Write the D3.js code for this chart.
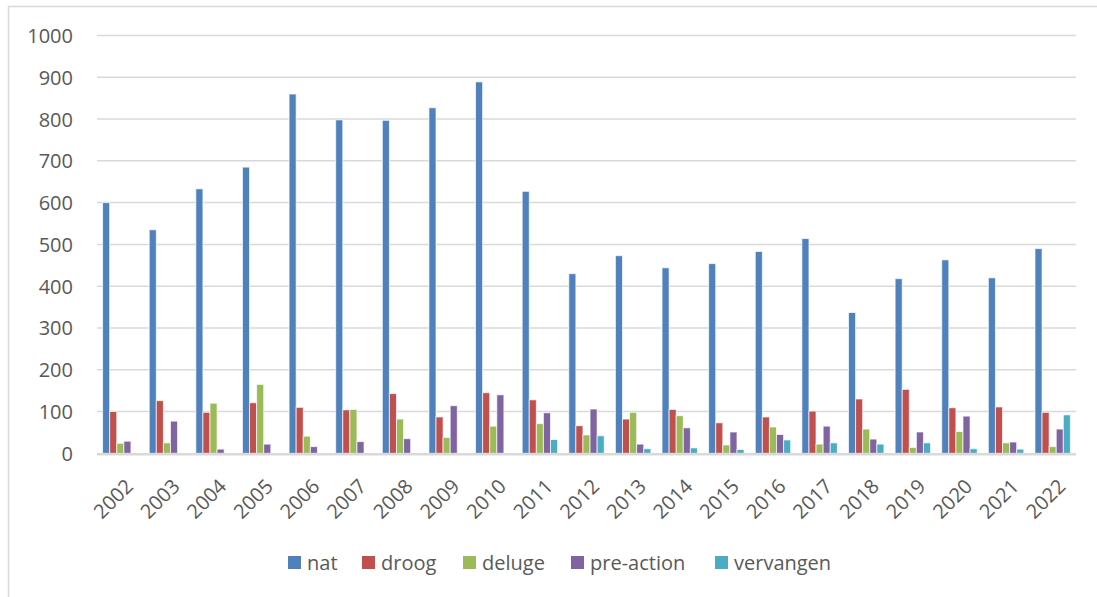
<!DOCTYPE html>
<html>
<head>
<meta charset="utf-8">
<script src="https://cdn.jsdelivr.net/npm/d3@7"></script>
<style>
  body { margin: 0; background: #fff; }
  text { font-family: "Open Sans", sans-serif; fill: #595959; }
</style>
</head>
<body>
<script>
var years = ["2002","2003","2004","2005","2006","2007","2008","2009","2010","2011",
             "2012","2013","2014","2015","2016","2017","2018","2019","2020","2021","2022"];
var nat = [600,535,633,685,860,798,797,827,889,627,430,473,444,454,483,514,337,418,463,420,490];
var droog = [100,126,98,121,110,104,143,87,145,128,66,82,105,73,87,101,130,153,109,111,98];
var deluge = [24,25,120,165,41,105,82,38,65,71,44,98,90,20,63,22,58,14,52,25,16];
var preAction = [29,77,10,22,16,28,35,114,140,97,106,22,61,51,45,65,34,51,89,27,58];
var vervangen = [0,0,0,0,0,0,0,0,0,33,42,11,13,9,32,25,22,25,11,10,92];
var yTicks = [0,100,200,300,400,500,600,700,800,900,1000];

var seriesNames = ["nat","droog","deluge","pre-action","vervangen"];
var seriesValues = [nat, droog, deluge, preAction, vervangen];
var colors = ["#4F81BD","#C0504D","#9BBB59","#8064A2","#4BACC6"];

var svgWidth = 1097;
var svgHeight = 597;

var svg = d3.select("body")
    .append("svg")
    .attr("width", svgWidth)
    .attr("height", svgHeight);

// chart border (only left/top visible in the crop)
svg.append("rect")
    .attr("x", 8.5).attr("y", 6.5)
    .attr("width", 1300).attr("height", 800)
    .attr("fill", "none")
    .attr("stroke", "#d9d9d9")
    .attr("stroke-width", 1.5);

var plotLeft = 97, plotRight = 1076;

var x0 = d3.scaleBand()
    .domain(years)
    .range([plotLeft, plotRight])
    .paddingInner(0.24)
    .paddingOuter(0.12);

var x1 = d3.scaleBand()
    .domain(seriesNames)
    .range([0, x0.bandwidth()]);

var y = d3.scaleLinear()
    .domain([0, 1000])
    .range([453.3, 35.5]);

// gridlines
svg.append("g")
    .selectAll("line")
    .data(yTicks.slice(1))
    .enter().append("line")
    .attr("x1", plotLeft).attr("x2", plotRight)
    .attr("y1", d => y(d)).attr("y2", d => y(d))
    .attr("stroke", "#d9d9d9")
    .attr("stroke-width", 1.5);

// y labels
var leftAxis = d3.axisLeft(y).tickValues(yTicks).tickFormat(d3.format("d")).tickSize(0).tickPadding(0);
var yAxis = svg.append("g")
    .attr("transform", "translate(73, 0)")
    .call(leftAxis);
yAxis.select(".domain").remove();
yAxis.selectAll("text")
    .attr("font-size", "20px")
    .attr("font-family", "Open Sans, sans-serif")
    .attr("fill", "#595959")
    .attr("dy", "0.35em");

// bars
var groups = svg.append("g")
    .selectAll("g")
    .data(years)
    .enter().append("g")
    .attr("transform", d => `translate(${x0(d)}, 0)`);

groups.selectAll("rect")
    .data((d, i) => seriesNames.map((s, j) => ({ name: s, value: seriesValues[j][i], color: colors[j] })))
    .enter().append("rect")
    .attr("x", d => x1(d.name))
    .attr("width", x1.bandwidth())
    .attr("y", d => y(d.value))
    .attr("height", d => y(0) - y(d.value))
    .attr("fill", d => d.color)
    .attr("stroke", "#ffffff")
    .attr("stroke-opacity", 0.7)
    .attr("stroke-width", 1)
    .style("display", d => d.value > 0 ? null : "none");

// x axis line
svg.append("line")
    .attr("x1", plotLeft).attr("x2", plotRight)
    .attr("y1", y(0) + 1).attr("y2", y(0) + 1)
    .attr("stroke", "#d9d9d9")
    .attr("stroke-width", 2.5);

// x labels
svg.append("g")
    .selectAll("text")
    .data(years)
    .enter().append("text")
    .attr("transform", d => `translate(${x0(d) + x0.bandwidth() / 2 + 3.5}, 477) rotate(-45)`)
    .attr("text-anchor", "end")
    .attr("dy", "0.75em")
    .attr("font-size", "20px")
    .text(d => d);

// legend
var legendX = [288, 362, 463, 571, 715];
var legend = svg.append("g")
    .selectAll("g")
    .data(seriesNames)
    .enter().append("g")
    .attr("transform", (d, i) => `translate(${legendX[i]}, 563)`);

legend.append("rect")
    .attr("x", 0).attr("y", -7)
    .attr("width", 13).attr("height", 13)
    .attr("fill", (d, i) => colors[i]);

legend.append("text")
    .attr("x", 19)
    .attr("dy", "0.35em")
    .attr("font-size", "20px")
    .text(d => d);
</script>
</body>
</html>
